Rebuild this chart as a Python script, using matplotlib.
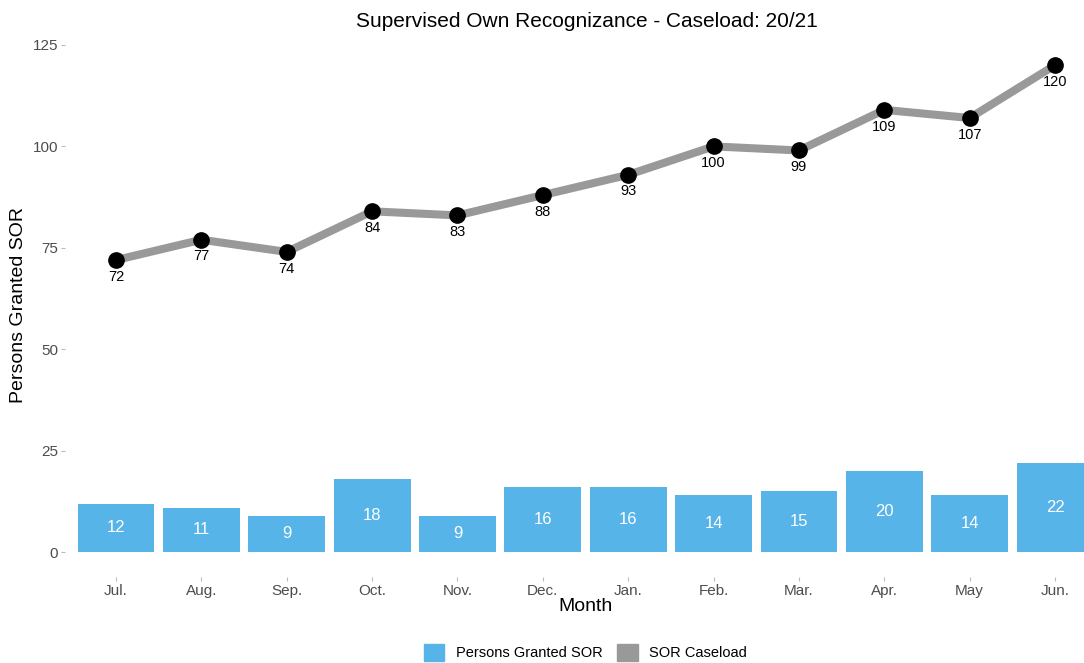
import matplotlib
matplotlib.use("Agg")
import matplotlib.pyplot as plt
from matplotlib.patches import Patch

plt.rcParams["font.family"] = ["Liberation Sans", "DejaVu Sans"]

months = ["Jul.", "Aug.", "Sep.", "Oct.", "Nov.", "Dec.", "Jan.", "Feb.", "Mar.", "Apr.", "May", "Jun."]
granted = [12, 11, 9, 18, 9, 16, 16, 14, 15, 20, 14, 22]
caseload = [72, 77, 74, 84, 83, 88, 93, 100, 99, 109, 107, 120]
yticks = [0, 25, 50, 75, 100, 125]

bar_color = "#56B4E9"
line_color = "#999999"

fig = plt.figure(figsize=(10.84, 6.63), dpi=100)
ax = fig.add_axes([0.0598, 0.1297, 0.9607, 0.8215])

x = list(range(len(months)))
ax.bar(x, granted, width=0.9, color=bar_color, zorder=1)
for xi, v in zip(x, granted):
    ax.text(xi, v / 2, str(v), color="white", ha="center", va="center", fontsize=12)

ax.plot(x, caseload, color=line_color, linewidth=5.8, zorder=2, solid_capstyle="butt")
ax.plot(x, caseload, "o", color="black", markersize=11, zorder=3)
for xi, v in zip(x, caseload):
    ax.annotate(str(v), (xi, v), xytext=(0, -12), textcoords="offset points",
                ha="center", va="center", fontsize=10.5, color="black")

ax.set_xlim(-0.6, 11.6)
ax.set_ylim(-6.1, 128.1)
ax.set_xticks(x)
ax.set_xticklabels(months)
ax.set_yticks(yticks)
for s in ax.spines.values():
    s.set_visible(False)
ax.tick_params(axis="both", colors="#BBBBBB", labelcolor="#4D4D4D", labelsize=11, length=3, width=0.8)
ax.tick_params(axis="y", pad=2)
ax.tick_params(axis="x", pad=2)

ax.set_xlabel("Month", fontsize=14, labelpad=0)
ax.set_ylabel("Persons Granted SOR", fontsize=14, labelpad=4)
fig.text(0.541, 0.968, "Supervised Own Recognizance - Caseload: 20/21", ha="center", va="center", fontsize=15)

handles = [Patch(color=bar_color, label="Persons Granted SOR"),
           Patch(color=line_color, label="SOR Caseload")]
fig.legend(handles=handles, loc="center", bbox_to_anchor=(0.54, 0.016), ncol=2, frameon=False,
           fontsize=10.5, handlelength=1.4, handleheight=1.4, columnspacing=1.0, handletextpad=0.8)

fig.savefig("out.png", dpi=100)
